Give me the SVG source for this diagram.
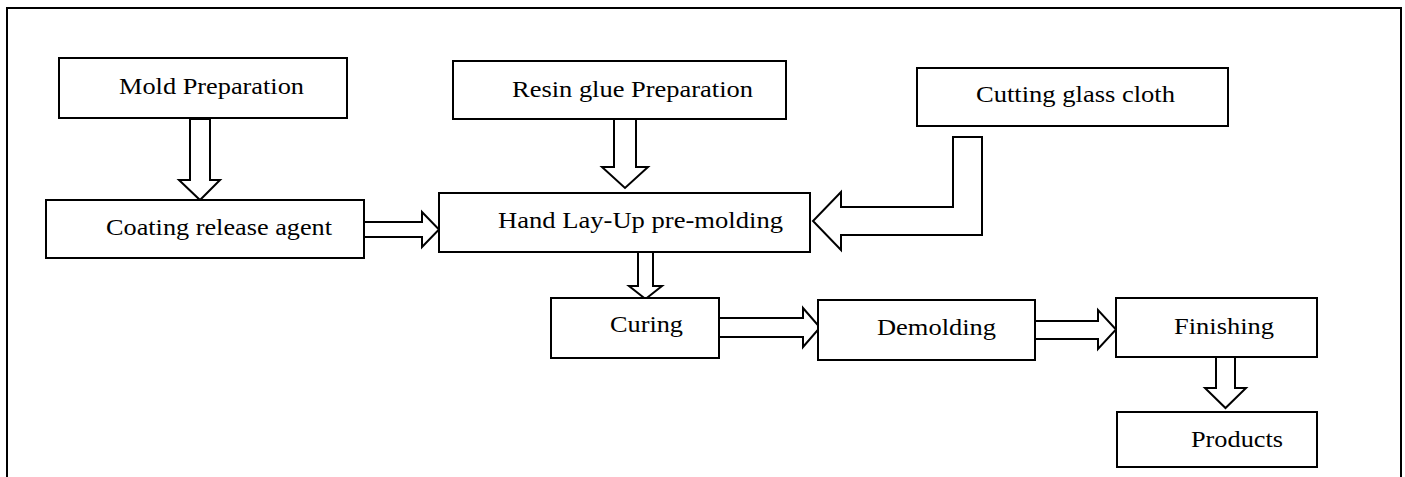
<svg xmlns="http://www.w3.org/2000/svg" width="1405" height="477" viewBox="0 0 1405 477">
<style>
.box{fill:#fff;stroke:#000;stroke-width:2}
.arr{fill:#fff;stroke:#000;stroke-width:2;stroke-linejoin:miter}
.frame{fill:none;stroke:#000;stroke-width:2}
text{font-family:"Liberation Serif","Times New Roman",serif;font-size:24px;fill:#000}
</style>
<rect x="0" y="0" width="1405" height="477" fill="#fff"/>
<path class="frame" d="M7,480 V8 H1401 V480"/>
<g id="connectors">
<path class="arr" d="M190,119 H210 V180 H220 L200,200 L179,180 H190 Z"/>
<path class="arr" d="M614,119 H636 V167 H648 L625,188 L602,167 H614 Z"/>
<path class="arr" d="M364,222 H422 V212 L439,229.5 L422,247 V237 H364 Z"/>
<path class="arr" d="M953,137 H982 V235 H841 V250 L813,221 L841,192 V207 H953 Z"/>
<path class="arr" d="M638,252 H653 V286 H662 L645.5,299 L629,286 H638 Z"/>
<path class="arr" d="M719,318 H803 V308 L820,327.5 L803,347 V337 H719 Z"/>
<path class="arr" d="M1035,321 H1098 V310 L1116,329.5 L1098,349 V339 H1035 Z"/>
<path class="arr" d="M1216,357 H1235 V388 H1246 L1225.5,408 L1205,388 H1216 Z"/>
</g>
<g id="mold"><rect class="box" x="59" y="58" width="288" height="60"/><text x="119" y="94" textLength="185" lengthAdjust="spacingAndGlyphs">Mold Preparation</text></g>
<g id="resin"><rect class="box" x="453" y="61" width="333" height="58"/><text x="512" y="97" textLength="241" lengthAdjust="spacingAndGlyphs">Resin glue Preparation</text></g>
<g id="cutting"><rect class="box" x="917" y="68" width="311" height="58"/><text x="976" y="102" textLength="199" lengthAdjust="spacingAndGlyphs">Cutting glass cloth</text></g>
<g id="coating"><rect class="box" x="46" y="200" width="318" height="58"/><text x="106" y="235" textLength="226" lengthAdjust="spacingAndGlyphs">Coating release agent</text></g>
<g id="handlayup"><rect class="box" x="439" y="193" width="371" height="59"/><text x="498" y="228" textLength="285" lengthAdjust="spacingAndGlyphs">Hand Lay-Up pre-molding</text></g>
<g id="curing"><rect class="box" x="551" y="298" width="168" height="60"/><text x="610" y="332" textLength="73" lengthAdjust="spacingAndGlyphs">Curing</text></g>
<g id="demolding"><rect class="box" x="818" y="300" width="217" height="60"/><text x="877" y="335" textLength="119" lengthAdjust="spacingAndGlyphs">Demolding</text></g>
<g id="finishing"><rect class="box" x="1116" y="298" width="201" height="59"/><text x="1174" y="334" textLength="100" lengthAdjust="spacingAndGlyphs">Finishing</text></g>
<g id="products"><rect class="box" x="1117" y="412" width="200" height="55"/><text x="1191" y="447" textLength="92" lengthAdjust="spacingAndGlyphs">Products</text></g>
</svg>
